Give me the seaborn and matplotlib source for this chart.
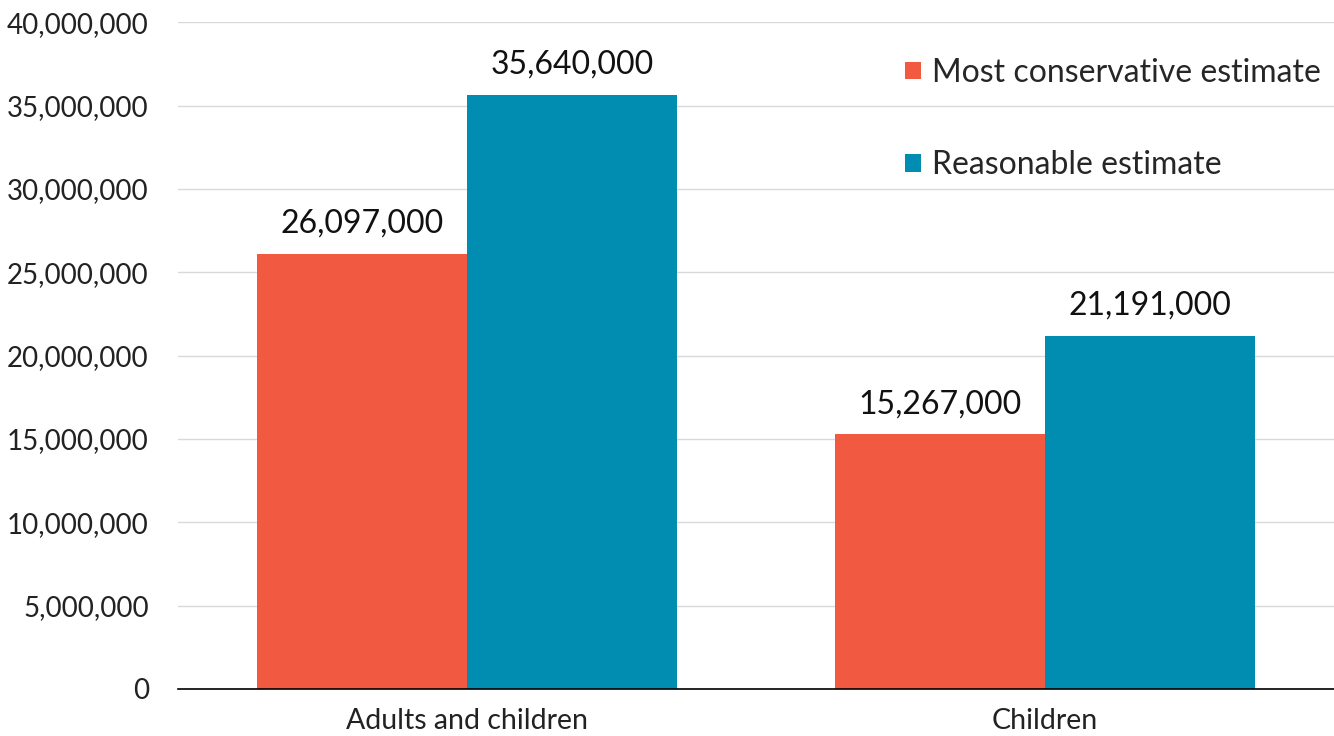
import matplotlib
matplotlib.use('Agg')
import matplotlib.pyplot as plt
import seaborn as sns
import pandas as pd
from matplotlib.ticker import FuncFormatter

categories = ['Adults and children', 'Children']
series = ['Most conservative estimate', 'Reasonable estimate']
conservative = [26097000, 15267000]
reasonable = [35640000, 21191000]
colors = ['#F15A40', '#008DB1']

df = pd.DataFrame({
    'group': categories * 2,
    'estimate': [series[0]] * 2 + [series[1]] * 2,
    'value': conservative + reasonable,
})

sns.set_style('white')
plt.rcParams['font.family'] = ['Lato', 'DejaVu Sans']

fig = plt.figure(figsize=(13.34, 7.36), dpi=100)
ax = fig.add_axes([0.1334, 0.0639, 0.8666, 0.906])

sns.barplot(data=df, x='group', y='value', hue='estimate', palette=colors,
            width=0.728, saturation=1, linewidth=0, ax=ax)

for container in ax.containers:
    ax.bar_label(container, labels=[f'{int(v.get_height()):,}' for v in container],
                 padding=11, fontsize=23, color='#111111')

ax.set_ylim(0, 40000000)
ax.set_xlim(-0.5, 1.5)
ax.set_yticks(range(0, 40000001, 5000000))
ax.yaxis.set_major_formatter(FuncFormatter(lambda v, p: f'{int(v):,}'))
ax.yaxis.grid(True, color='#D9D9D9', linewidth=1)
ax.set_axisbelow(True)
ax.set_xlabel('')
ax.set_ylabel('')
ax.tick_params(axis='y', labelsize=20, colors='#222222', length=0, pad=21)
ax.tick_params(axis='x', labelsize=20.5, colors='#222222', length=0, pad=14)
for s in ['top', 'right', 'left']:
    ax.spines[s].set_visible(False)
ax.spines['bottom'].set_color('#000000')
ax.spines['bottom'].set_linewidth(1.2)

ax.legend(loc='upper right', bbox_to_anchor=(1.008, 0.98), frameon=False, fontsize=23,
          handlelength=0.48, handleheight=0.48, handletextpad=0.35, labelspacing=1.95,
          borderaxespad=0.3)

fig.savefig('out.png', dpi=100)
